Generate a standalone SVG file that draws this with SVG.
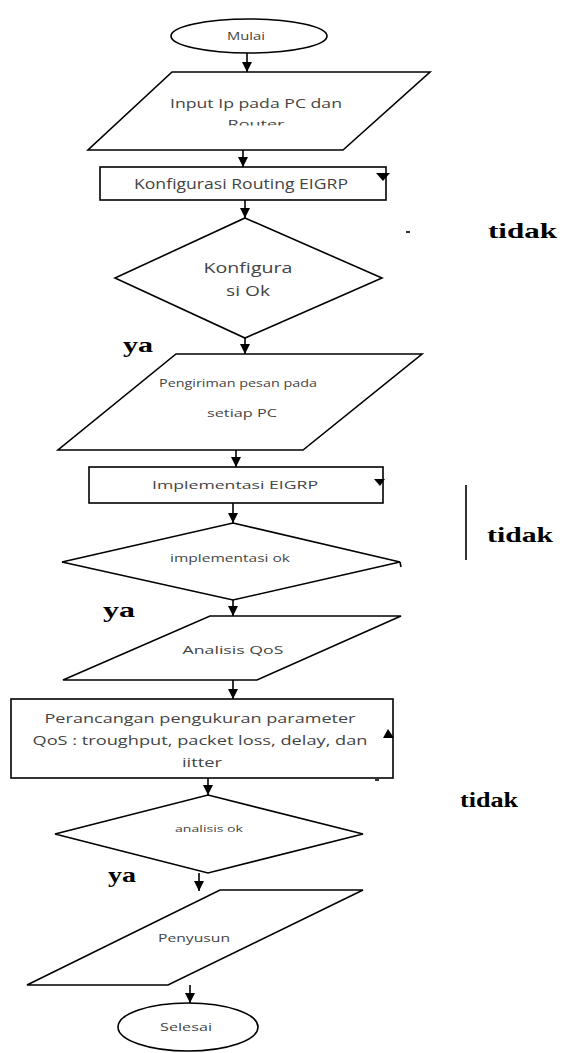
<svg xmlns="http://www.w3.org/2000/svg" width="576" height="1053" viewBox="0 0 576 1053">
<style>
.s{fill:#fff;stroke:#000;stroke-width:1.6}
.t{font-family:"Open Sans","Liberation Sans",sans-serif;fill:#444;text-anchor:middle}
.b{font-family:"Liberation Serif","DejaVu Serif",serif;font-weight:bold;fill:#000;font-size:21px}
.c{stroke:#000;stroke-width:1.6;fill:none}
</style>
<defs>
<marker id="ah" markerUnits="userSpaceOnUse" markerWidth="10" markerHeight="10" refX="10" refY="5" orient="auto" viewBox="0 0 10 10">
<path d="M0,0 L10,5 L0,10 z" fill="#000"/>
</marker>
<clipPath id="rc"><rect x="0" y="0" width="576" height="125.5"/></clipPath>
</defs>
<rect width="576" height="1053" fill="#fff"/>
<g id="mulai">
<ellipse class="s" cx="249" cy="36" rx="78" ry="17"/>
<text class="t" x="246" y="40" font-size="11" textLength="38" lengthAdjust="spacingAndGlyphs">Mulai</text>
</g>
<g id="input">
<polygon class="s" points="172,72 430,72 343,150 88,150"/>
<text class="t" x="256" y="108" font-size="13.5" textLength="172" lengthAdjust="spacingAndGlyphs">Input Ip pada PC dan</text>
<text class="t" x="256" y="128" font-size="11" textLength="57" lengthAdjust="spacingAndGlyphs" clip-path="url(#rc)">Router</text>
</g>
<g id="konfigurasi">
<rect class="s" x="100" y="167" width="286" height="33"/>
<text class="t" x="241" y="189" font-size="14" textLength="214" lengthAdjust="spacingAndGlyphs">Konfigurasi Routing EIGRP</text>
<path d="M376,173 L390,173 L383,181 z" fill="#000"/>
</g>
<g id="cek1">
<polygon class="s" points="245,218 382,278 245,338 115,278"/>
<text class="t" x="248" y="273" font-size="15" textLength="89" lengthAdjust="spacingAndGlyphs">Konfigura</text>
<text class="t" x="248" y="296" font-size="15" textLength="44" lengthAdjust="spacingAndGlyphs">si Ok</text>
</g>
<g id="pengiriman">
<polygon class="s" points="176,354 422,354 303,450 58,450"/>
<text class="t" x="238" y="387" font-size="10" textLength="158" lengthAdjust="spacingAndGlyphs">Pengiriman pesan pada</text>
<text class="t" x="242" y="417" font-size="10" textLength="70" lengthAdjust="spacingAndGlyphs">setiap  PC</text>
</g>
<g id="implementasi">
<rect class="s" x="89" y="467" width="294" height="36"/>
<text class="t" x="235" y="489" font-size="11" textLength="166" lengthAdjust="spacingAndGlyphs">Implementasi EIGRP</text>
<path d="M374,479 L385,479 L380,486 z" fill="#000"/>
</g>
<g id="cek2">
<polygon class="s" points="233,523 400,562 233,600 62,562"/>
<line class="c" x1="400" y1="562" x2="401" y2="567"/>
<text class="t" x="230" y="562" font-size="10" textLength="120" lengthAdjust="spacingAndGlyphs">implementasi ok</text>
</g>
<g id="analisis">
<polygon class="s" points="210,616 401,616 257,680 63,680"/>
<text class="t" x="233" y="654" font-size="11" textLength="101" lengthAdjust="spacingAndGlyphs">Analisis QoS</text>
</g>
<g id="perancangan">
<rect class="s" x="11" y="699" width="382" height="79"/>
<text class="t" x="200" y="723" font-size="13.5" textLength="311" lengthAdjust="spacingAndGlyphs">Perancangan pengukuran parameter</text>
<text class="t" x="200" y="745" font-size="13.5" textLength="335" lengthAdjust="spacingAndGlyphs">QoS : troughput, packet loss, delay, dan</text>
<text class="t" x="202" y="767" font-size="13.5" textLength="40" lengthAdjust="spacingAndGlyphs">iitter</text>
<path d="M383,738 L394,738 L388,729 z" fill="#000"/>
</g>
<g id="cek3">
<polygon class="s" points="208,795 363,834 208,873 55,834"/>
<text class="t" x="209" y="832" font-size="9" textLength="68" lengthAdjust="spacingAndGlyphs">analisis ok</text>
</g>
<g id="penyusun">
<polygon class="s" points="220,890 363,890 168,985 27,985"/>
<text class="t" x="194" y="942" font-size="11" textLength="72" lengthAdjust="spacingAndGlyphs">Penyusun</text>
</g>
<g id="selesai">
<ellipse class="s" cx="188" cy="1027" rx="70" ry="24"/>
<text class="t" x="186" y="1031" font-size="10" textLength="52" lengthAdjust="spacingAndGlyphs">Selesai</text>
</g>
<g id="labels">
<text class="b" x="488" y="238" textLength="69" lengthAdjust="spacingAndGlyphs">tidak</text>
<text class="b" x="487" y="542" textLength="66" lengthAdjust="spacingAndGlyphs">tidak</text>
<text class="b" x="460" y="807" textLength="58" lengthAdjust="spacingAndGlyphs">tidak</text>
<text class="b" x="123" y="352" textLength="30" lengthAdjust="spacingAndGlyphs">ya</text>
<text class="b" x="103" y="617" textLength="32" lengthAdjust="spacingAndGlyphs">ya</text>
<text class="b" x="108" y="882" textLength="28" lengthAdjust="spacingAndGlyphs">ya</text>
</g>
<g id="connectors">
<line class="c" x1="247" y1="53" x2="247" y2="72" marker-end="url(#ah)"/>
<line class="c" x1="243" y1="150" x2="243" y2="167" marker-end="url(#ah)"/>
<line class="c" x1="245" y1="200" x2="245" y2="218" marker-end="url(#ah)"/>
<line class="c" x1="245" y1="338" x2="245" y2="354" marker-end="url(#ah)"/>
<line class="c" x1="236" y1="450" x2="236" y2="467" marker-end="url(#ah)"/>
<line class="c" x1="233" y1="503" x2="233" y2="523" marker-end="url(#ah)"/>
<line class="c" x1="233" y1="600" x2="233" y2="616" marker-end="url(#ah)"/>
<line class="c" x1="233" y1="680" x2="233" y2="699" marker-end="url(#ah)"/>
<line class="c" x1="208" y1="778" x2="208" y2="795" marker-end="url(#ah)"/>
<line class="c" x1="199" y1="873" x2="199" y2="891" marker-end="url(#ah)"/>
<line class="c" x1="190" y1="985" x2="190" y2="1003" marker-end="url(#ah)"/>
<line class="c" x1="466" y1="485" x2="466" y2="560" stroke-width="2"/>
<line class="c" x1="406" y1="232" x2="410" y2="232"/>
<line class="c" x1="375" y1="780" x2="379" y2="780"/>
</g>
</svg>
